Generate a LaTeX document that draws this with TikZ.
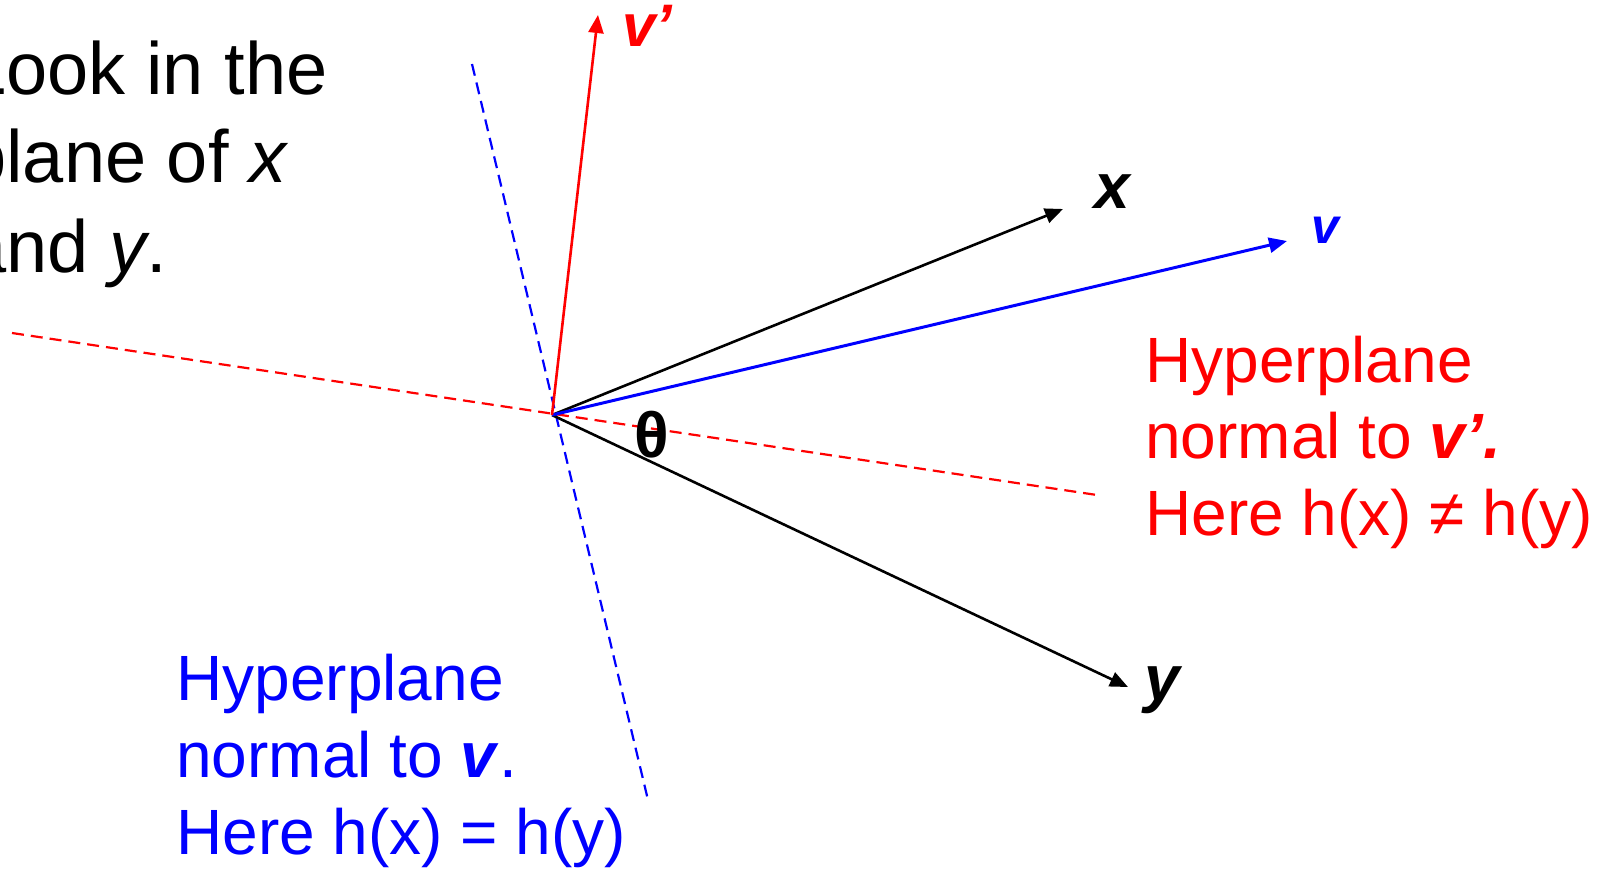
\documentclass[tikz,border=0pt]{standalone}
\usepackage{fontspec}
\setmainfont{Liberation Sans}
\usetikzlibrary{arrows.meta}
\definecolor{pred}{RGB}{255,0,0}
\definecolor{pblue}{RGB}{0,0,255}
\tikzset{
  vec/.style={line width=1.3pt,-{Triangle[length=9pt,width=7.5pt]}},
  hyp/.style={line width=1.1pt,dash pattern=on 6pt off 3.5pt},
  biglbl/.style={anchor=base west,inner sep=0pt,font=\fontsize{37}{44}\selectfont},
  redlbl/.style={anchor=base west,inner sep=0pt,text=pred,font=\fontsize{32}{38}\selectfont},
  bluelbl/.style={anchor=base west,inner sep=0pt,text=pblue,font=\fontsize{32}{38}\selectfont},
  veclbl/.style={anchor=base west,inner sep=0pt,font=\bfseries\itshape\fontsize{32}{38}\selectfont},
}
\begin{document}
\begin{tikzpicture}[x=0.5pt,y=-0.5pt]
\useasboundingbox (0,0) rectangle (1608,869);
% coordinates
\coordinate (O) at (552,415);
\coordinate (vptip) at (598,15);
\coordinate (xtip) at (1063,209);
\coordinate (vtip) at (1287,241);
\coordinate (ytip) at (1128,687);
\coordinate (bA) at (472,64);
\coordinate (bB) at (648,800);
\coordinate (rA) at (12,333);
\coordinate (rB) at (1097,495);
% hyperplanes
\draw[hyp,pblue] (bA) -- (bB);
\draw[hyp,pred] (rA) -- (rB);
% vectors
\draw[vec,black] (O) -- (xtip);
\draw[vec,black] (O) -- (ytip);
\draw[vec,pblue,line width=1.5pt] (O) -- (vtip);
\draw[vec,pred] (O) -- (vptip);
% vector labels
\node[veclbl,text=pred,font=\bfseries\itshape\fontsize{30}{36}\selectfont] (vpl) at (622,46) {v’};
\node[veclbl] (xl) at (1094,208) {x};
\node[veclbl,text=pblue,font=\bfseries\itshape\fontsize{25}{30}\selectfont] (vl) at (1311,243) {v};
\node[veclbl] (yl) at (1144,700) {y};
\node[inner sep=0pt,font=\bfseries\fontsize{32}{36}\selectfont] (th) at (652,435) {θ};
% top-left text
\node[biglbl] (t1) at (-35,94) {Look in the};
\node[biglbl] (t2) at (-35,182) {plane of \textit{x}};
\node[biglbl] (t3) at (-35,272) {and \textit{y}.};
% red text
\node[redlbl] (r1) at (1145,382) {Hyperplane};
\node[redlbl] (r2) at (1145,458) {normal to \textbf{\textit{v’.}}};
\node[redlbl] (r3) at (1145,535) {Here h(x) ≠ h(y)};
% blue text
\node[bluelbl] (b1) at (176,700) {Hyperplane};
\node[bluelbl] (b2) at (176,777) {normal to \textbf{\textit{v}}.};
\node[bluelbl] (b3) at (176,854) {Here h(x) = h(y)};
\end{tikzpicture}
\end{document}
